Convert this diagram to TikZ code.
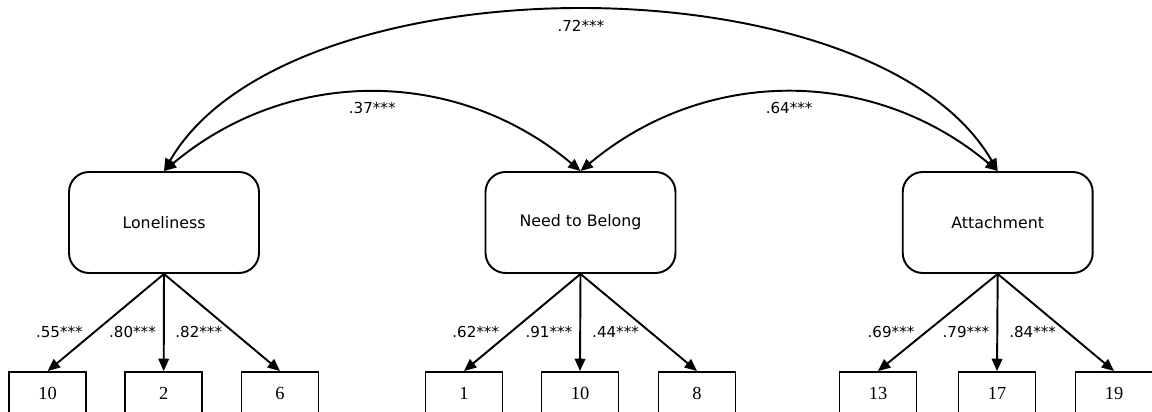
\documentclass[tikz,border=0pt]{standalone}
\usepackage{fontspec}
\setmainfont{Liberation Serif}
\setsansfont{DejaVu Sans}
\usetikzlibrary{arrows.meta}

\begin{document}
\begin{tikzpicture}[x=0.02cm, y=0.02cm, line width=1.1pt,
   >={Triangle[length=7pt,width=6pt]},
   latent/.style={draw, rounded corners=0.4cm, minimum width=3.8cm, minimum height=2.02cm, font=\sffamily\fontsize{9}{11}\selectfont},
   item/.style={draw, minimum width=1.54cm, minimum height=0.84cm, font=\fontsize{10.5}{12}\selectfont},
   coef/.style={font=\sffamily\fontsize{8.6}{10}\selectfont, inner sep=1pt}]

   \useasboundingbox (0,0) rectangle (1152,412);

% latente Variablen
   \node[latent] (lone) at (164,189.5) {Loneliness};
   \node[latent] (need) at (580.5,189.5) {Need to Belong};
   \node[latent] (att) at (997.7,189.5) {Attachment};

% Items
   \node[item] (l1) at (47.7,19) {10};
   \node[item] (l2) at (163.7,19) {2};
   \node[item] (l3) at (280,19) {6};
   \node[item] (n1) at (464,19) {1};
   \node[item] (n2) at (580,19) {10};
   \node[item] (n3) at (697,19) {8};
   \node[item] (a1) at (878,19) {13};
   \node[item] (a2) at (997,19) {17};
   \node[item] (a3) at (1114,19) {19};

% Ladungen
   \draw[->] (lone.south) -- node[coef, pos=0.6, left=5pt] {.55***} (l1.north);
   \draw[->] (lone.south) -- node[coef, pos=0.6, left=3pt] {.80***} (l2.north);
   \draw[->] (lone.south) -- node[coef, pos=0.6, left=5pt] {.82***} (l3.north);
   \draw[->] (need.south) -- node[coef, pos=0.6, left=5pt] {.62***} (n1.north);
   \draw[->] (need.south) -- node[coef, pos=0.6, left=3pt] {.91***} (n2.north);
   \draw[->] (need.south) -- node[coef, pos=0.6, left=5pt] {.44***} (n3.north);
   \draw[->] (att.south) -- node[coef, pos=0.6, left=5pt] {.69***} (a1.north);
   \draw[->] (att.south) -- node[coef, pos=0.6, left=3pt] {.79***} (a2.north);
   \draw[->] (att.south) -- node[coef, pos=0.6, left=5pt] {.84***} (a3.north);

% Korrelationen
   \draw[<->] (lone.north) to[out=40, in=140] node[coef, below=4pt] {.37***} (need.north);
   \draw[<->] (need.north) to[out=40, in=140] node[coef, below=4pt] {.64***} (att.north);
   \draw[<->] (lone.north) to[out=60, in=120, looseness=0.76] node[coef, below=4pt] {.72***} (att.north);

\end{tikzpicture}
\end{document}
